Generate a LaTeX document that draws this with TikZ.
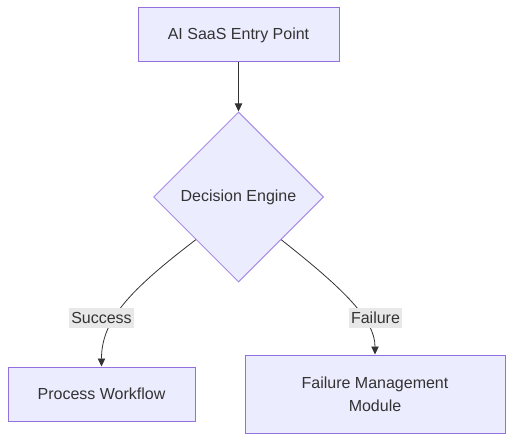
\documentclass[tikz,border=0pt]{standalone}
\usepackage{fontspec}
\setmainfont{Liberation Sans}
\usetikzlibrary{arrows.meta,shapes.geometric}

\definecolor{boxfill}{HTML}{ECECFF}
\definecolor{boxline}{HTML}{9370DB}
\definecolor{ink}{HTML}{333333}
\definecolor{labelbg}{HTML}{E8E8E8}

\tikzset{
	stepbox/.style={draw=boxline, fill=boxfill, line width=0.75pt, text=ink, font=\fontsize{12}{17}\selectfont, align=center, inner sep=0pt},
	choice/.style={stepbox, diamond, aspect=1, minimum width=127.5pt, minimum height=127.5pt, draw=boxline!80},
	flow/.style={draw=ink, line width=0.6pt, -{Triangle[length=6pt,width=5.5pt]}},
	edgelabel/.style={fill=labelbg, text=ink, font=\fontsize{12}{14}\selectfont, inner xsep=1.5pt, inner ysep=3pt}
}

\begin{document}
\begin{tikzpicture}[x=0.75pt, y=-0.75pt]
		\useasboundingbox (0, 0) rectangle (514, 442);

		% boxes
		\node[stepbox, minimum width=150.75pt, minimum height=40.5pt] (entry) at (238.5, 35) {AI SaaS Entry Point};
		\node[choice] (engine) at (238.5, 197) {Decision Engine};
		\node[stepbox, minimum width=140.25pt, minimum height=40.5pt] (process) at (101.5, 394) {Process Workflow};
		\node[stepbox, minimum width=195pt, minimum height=58.5pt] (failmod) at (375, 394) {Failure Management\\Module};

		% connectors
		\draw[flow] (entry.south) -- (engine.north);
		\draw[flow] (engine.south west) .. controls (130, 290) and (101.5, 320) .. (process.north);
		\draw[flow] (engine.south east) .. controls (345, 290) and (375, 320) .. (failmod.north);

		% labels
		\node[edgelabel] (success) at (101.5, 318) {Success};
		\node[edgelabel] (failure) at (375.5, 318) {Failure};
\end{tikzpicture}
\end{document}
